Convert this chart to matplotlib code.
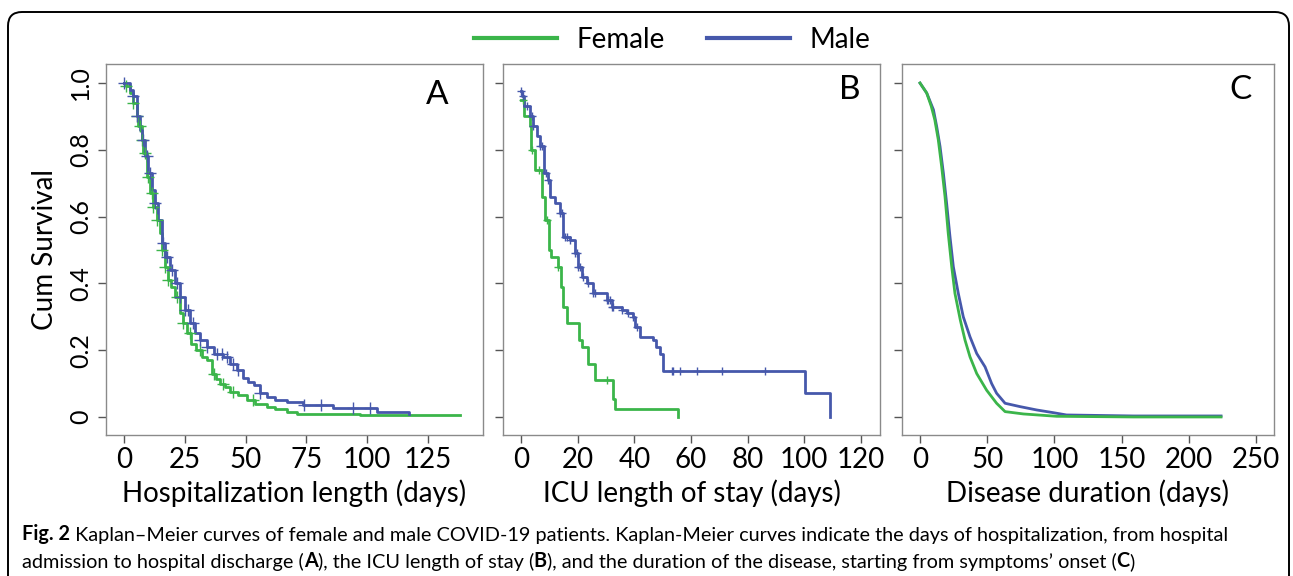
import numpy as np
import matplotlib
matplotlib.use("Agg")
import matplotlib.pyplot as plt
from matplotlib.patches import FancyBboxPatch
from matplotlib.lines import Line2D
from matplotlib.text import Annotation
from matplotlib.transforms import IdentityTransform

plt.rcParams['font.family'] = ['Lato', 'DejaVu Sans']

# ---- data ----
# A: hospitalization length
female_a_t = [0, 0.9, 2.5, 3.8, 5.2, 5.9, 7.3, 8, 9.3, 10.7, 12, 13.4, 14.8, 15.5, 16.9, 18.2, 19.5, 21, 23,
              24.4, 25.8, 27.5, 29.8, 32, 34, 36, 38, 39.6, 41.5, 43.6, 47, 50.4, 54, 58.7, 62, 66.9, 71, 97, 138]
female_a_s = [1.0, 0.99, 0.97, 0.94, 0.90, 0.87, 0.83, 0.79, 0.72, 0.67, 0.63, 0.59, 0.55, 0.50, 0.45, 0.41, 0.39,
              0.36, 0.31, 0.28, 0.25, 0.22, 0.20, 0.18, 0.17, 0.13, 0.115, 0.10, 0.09, 0.076, 0.065, 0.051, 0.04,
              0.031, 0.024, 0.016, 0.009, 0.006, 0.006]
female_a_cens = [0.9, 3.8, 5.2, 6.6, 7.3, 8.6, 10, 11.4, 12.1, 13.4, 15.5, 16.9, 18.2, 21.7, 24.4, 27.2, 31.3,
                 36.8, 40.9, 45, 53]
male_a_t = [0, 2.5, 3.8, 5.2, 6.5, 7.2, 8.6, 10, 11.4, 12.7, 14.1, 15.5, 16.9, 19, 21, 23, 25.1, 27.2, 29.2, 31.3,
            34, 36.8, 40.9, 43.6, 46.4, 49.1, 51, 53.3, 55.9, 58.7, 62, 66.9, 73.7, 86, 104, 117]
male_a_s = [1.0, 0.98, 0.96, 0.90, 0.86, 0.83, 0.78, 0.73, 0.68, 0.64, 0.59, 0.52, 0.48, 0.44, 0.40, 0.36, 0.32,
            0.28, 0.25, 0.23, 0.21, 0.19, 0.18, 0.16, 0.14, 0.116, 0.105, 0.096, 0.071, 0.061, 0.052, 0.046,
            0.036, 0.026, 0.016, 0.009]
male_a_cens = [0, 3.8, 5.2, 8, 9.3, 10.7, 12.8, 16.2, 17.5, 19.6, 21.7, 23, 25.1, 26.5, 28.5, 31.3, 34, 38.1,
               40.2, 42.2, 45, 47, 55.9, 74, 81, 94, 101]

# B: ICU length of stay
female_b_t = [0, 1.1, 3.2, 3.6, 4.8, 7.5, 8.3, 9.8, 10.6, 13, 14, 14.9, 16.4, 20.6, 21.4, 23.6, 26.1, 32.4,
              33.2, 55.3]
female_b_s = [0.95, 0.90, 0.87, 0.80, 0.74, 0.66, 0.59, 0.50, 0.48, 0.45, 0.39, 0.33, 0.28, 0.23, 0.21, 0.16,
              0.11, 0.055, 0.025, 0.0]
female_b_cens = [0.8, 3.8, 6.2, 9.1, 13.2, 30.2]
male_b_t = [0, 0.3, 1.2, 3.2, 4.3, 5.5, 6.7, 8.1, 9.6, 10.2, 12, 13.8, 14.9, 17.2, 19, 20.2, 21.4, 23.2, 25.5,
            30.2, 32, 35.5, 37.3, 39.6, 40.2, 41.9, 46.6, 47.8, 49, 50.2, 100.2, 109]
male_b_s = [0.977, 0.96, 0.93, 0.90, 0.87, 0.84, 0.81, 0.73, 0.71, 0.66, 0.64, 0.61, 0.54, 0.53, 0.49, 0.45,
            0.42, 0.40, 0.37, 0.35, 0.33, 0.32, 0.31, 0.30, 0.27, 0.24, 0.23, 0.21, 0.19, 0.139, 0.071, 0.0]
male_b_cens = [0, 0.8, 2, 3.8, 4.4, 6.7, 7.3, 9, 9.6, 13.8, 14.4, 15.5, 16.1, 17.3, 19, 19.6, 20.2, 20.8, 22,
               23.8, 25.5, 26.1, 30.2, 30.8, 31.4, 32, 32.6, 35.5, 37.9, 39.6, 40.8, 53.2, 53.7, 56, 62, 71, 86]

# C: disease duration
female_c_t = [0, 5, 8.4, 11, 13.6, 16.1, 18.6, 21, 23.6, 26, 30, 33.5, 37.2, 42.2, 49.6, 57, 63.3, 77, 101.7,
              159, 224]
female_c_s = [1.0, 0.97, 0.93, 0.89, 0.83, 0.75, 0.66, 0.55, 0.45, 0.37, 0.29, 0.23, 0.18, 0.13, 0.08, 0.041,
              0.016, 0.009, 0.002, 0.0, 0.0]
male_c_t = [0, 5, 10, 12.4, 14.9, 17.4, 19.8, 22.3, 24.8, 28.5, 32.2, 37.2, 42.2, 48.4, 53.3, 57, 63.3, 74.4,
            86.8, 99, 109, 159, 224]
male_c_s = [1.0, 0.97, 0.92, 0.87, 0.81, 0.73, 0.64, 0.54, 0.45, 0.37, 0.30, 0.24, 0.19, 0.15, 0.10, 0.071,
            0.041, 0.031, 0.021, 0.013, 0.006, 0.003, 0.003]

green = '#3bb54a'
blue = '#4658ab'
W, H = 1293, 576

fig = plt.figure(figsize=(W / 100, H / 100), dpi=100)

# rounded frame, open at the bottom of the picture
fig.patches.append(FancyBboxPatch((8, -30), 1281, H - 12 + 30, boxstyle="round,pad=0,rounding_size=14",
                                  transform=IdentityTransform(), fill=False, ec='black', lw=1.4))


def censor_y(t, s, c):
    idx = np.searchsorted(np.array(t), np.array(c), side='right') - 1
    return np.array(s)[np.clip(idx, 0, len(s) - 1)]


def style(ax, xlim, xticks, xlabel, letter, lx, ly):
    ax.set_xlim(*xlim)
    ax.set_ylim(-0.054, 1.057)
    ax.set_xticks(xticks)
    ax.set_xlabel(xlabel, fontsize=20, labelpad=4)
    for sp in ax.spines.values():
        sp.set_color('#8a8a8a')
        sp.set_linewidth(1)
    ax.tick_params(axis='both', colors='#555555', length=6, width=1, labelcolor='black')
    ax.tick_params(axis='x', labelsize=20, pad=3)
    ax.tick_params(axis='y', labelsize=18, pad=4)
    ax.text(lx, ly, letter, transform=ax.transAxes, fontsize=24, ha='center', va='center')


ylbls = ['0', '0.2', '0.4', '0.6', '0.8', '1.0']
yt = [0, 0.2, 0.4, 0.6, 0.8, 1.0]

ax_a = fig.add_axes([106 / W, 1 - 435 / H, 377 / W, 371 / H])
ax_b = fig.add_axes([503 / W, 1 - 435 / H, 377 / W, 371 / H])
ax_c = fig.add_axes([902 / W, 1 - 435 / H, 372 / W, 371 / H])

# panel A
ax_a.plot(female_a_t, female_a_s, drawstyle='steps-post', color=green, lw=2)
ax_a.plot(male_a_t, male_a_s, drawstyle='steps-post', color=blue, lw=2)
ax_a.plot(female_a_cens, censor_y(female_a_t, female_a_s, female_a_cens), '+', color=green, ms=8, mew=1)
ax_a.plot(male_a_cens, censor_y(male_a_t, male_a_s, male_a_cens), '+', color=blue, ms=8, mew=1)
style(ax_a, (-7.4, 147.6), [0, 25, 50, 75, 100, 125], 'Hospitalization length (days)', 'A', 0.878, 0.916)
ax_a.set_yticks(yt)
ax_a.set_yticklabels(ylbls, rotation=90, va='center')
ax_a.set_ylabel('Cum Survival', fontsize=20, labelpad=8)

# panel B
ax_b.plot(female_b_t, female_b_s, drawstyle='steps-post', color=green, lw=2)
ax_b.plot(male_b_t, male_b_s, drawstyle='steps-post', color=blue, lw=2)
ax_b.plot(female_b_cens, censor_y(female_b_t, female_b_s, female_b_cens), '+', color=green, ms=6, mew=1)
ax_b.plot(male_b_cens, censor_y(male_b_t, male_b_s, male_b_cens), '+', color=blue, ms=6, mew=1)
style(ax_b, (-6.35, 126.7), [0, 20, 40, 60, 80, 100, 120], 'ICU length of stay (days)', 'B', 0.92, 0.93)
ax_b.set_yticks(yt)
ax_b.set_yticklabels([])

# panel C
ax_c.plot(male_c_t, male_c_s, color=blue, lw=2)
ax_c.plot(female_c_t, female_c_s, color=green, lw=2)
style(ax_c, (-13.4, 263.4), [0, 50, 100, 150, 200, 250], 'Disease duration (days)', 'C', 0.909, 0.93)
ax_c.set_yticks(yt)
ax_c.set_yticklabels([])

# legend
handles = [Line2D([], [], color=green, lw=3), Line2D([], [], color=blue, lw=3)]
fig.legend(handles, ['Female', 'Male'], loc='center', bbox_to_anchor=(0.52, 1 - 40 / H), ncol=2,
           frameon=False, fontsize=20, handlelength=3, handletextpad=0.7, columnspacing=1.5)

# caption, pieces chained one after another so bold parts sit inline
cap_size = 14.3


def chain(parts, x, y):
    last = None
    for txt, bold in parts:
        w = 'bold' if bold else 'normal'
        if last is None:
            last = fig.text(x, y, txt, fontsize=cap_size, fontweight=w, va='baseline')
        else:
            last = fig.add_artist(Annotation(txt, xy=(1, 0), xycoords=last, va='bottom', ha='left',
                                             fontsize=cap_size, fontweight=w))


chain([('Fig. 2', True),
       (' Kaplan–Meier curves of female and male COVID-19 patients. Kaplan-Meier curves indicate the days of '
        'hospitalization, from hospital', False)], 22 / W, 1 - 540 / H)
chain([('admission to hospital discharge (', False), ('A', True), ('), the ICU length of stay (', False),
       ('B', True), ('), and the duration of the disease, starting from symptoms’ onset (', False),
       ('C', True), (')', False)], 22 / W, 1 - 568 / H)

fig.savefig('out.png', dpi=100)
